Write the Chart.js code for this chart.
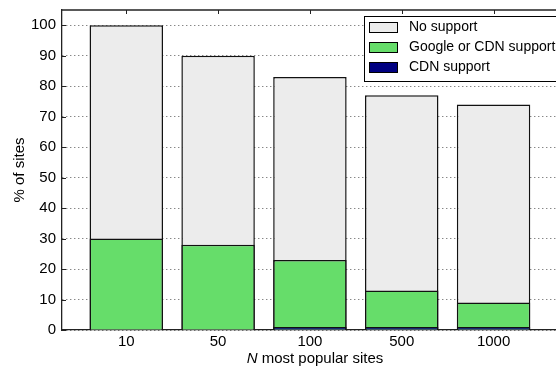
<!DOCTYPE html>
<html>
<head>
<meta charset="utf-8">
<script src="https://cdn.jsdelivr.net/npm/chart.js@4"></script>
<style>
  html, body { margin: 0; padding: 0; background: #fff; }
</style>
</head>
<body>
<canvas id="chart" width="556" height="368"></canvas>
<script>
// data
const categories = ["10", "50", "100", "500", "1000"];
const noSupport = [100, 90, 83, 77, 74];
const googleOrCdn = [30, 28, 23, 13, 9];
const cdnSupport = [0, 0, 1, 1, 1];
const yTicks = [0, 10, 20, 30, 40, 50, 60, 70, 80, 90, 100];

const FONT = "'Liberation Sans', Arial, Helvetica, sans-serif";
const tickFont = { family: FONT, size: 15 };

const toPoints = arr => arr.map((v, i) => ({ x: i, y: v }));

// top spine + inward tick marks, like the matplotlib frame
const framePlugin = {
  id: "frame",
  afterDraw(chart) {
    const { ctx, chartArea: a, scales } = chart;
    ctx.save();
    ctx.strokeStyle = "#222";
    ctx.lineWidth = 1.3;
    ctx.beginPath();
    ctx.moveTo(a.left, a.top);
    ctx.lineTo(a.right, a.top);
    ctx.stroke();
    ctx.lineWidth = 1;
    ctx.beginPath();
    categories.forEach((c, i) => {
      const x = Math.round(scales.x.getPixelForValue(i)) + 0.5;
      ctx.moveTo(x, a.top);
      ctx.lineTo(x, a.top + 4);
    });
    yTicks.forEach(v => {
      const y = Math.round(scales.y.getPixelForValue(v)) + 0.5;
      ctx.moveTo(a.left, y);
      ctx.lineTo(a.left + 4, y);
    });
    ctx.stroke();
    ctx.restore();
  }
};

// legend box inside the plot, top right
const legendPlugin = {
  id: "boxLegend",
  afterDraw(chart) {
    const ctx = chart.ctx;
    const x0 = 364.5, y0 = 16.5;
    ctx.save();
    ctx.fillStyle = "#fff";
    ctx.strokeStyle = "#000";
    ctx.lineWidth = 1;
    ctx.fillRect(x0, y0, 200, 65);
    ctx.strokeRect(x0, y0, 200, 65);
    ctx.font = "14px " + FONT;
    ctx.textBaseline = "middle";
    chart.data.datasets.forEach((ds, i) => {
      const y = 22.5 + i * 20;
      ctx.fillStyle = ds.backgroundColor;
      ctx.fillRect(369.5, y, 28, 10);
      ctx.strokeRect(369.5, y, 28, 10);
      ctx.fillStyle = "#000";
      ctx.fillText(ds.label, 409, y + 5);
    });
    ctx.restore();
  }
};

// x axis title with italic N
const xTitlePlugin = {
  id: "xTitle",
  afterDraw(chart) {
    const ctx = chart.ctx;
    const italic = "italic 15px " + FONT;
    const normal = "15px " + FONT;
    const rest = " most popular sites";
    ctx.save();
    ctx.font = italic;
    const w1 = ctx.measureText("N").width;
    ctx.font = normal;
    const w2 = ctx.measureText(rest).width;
    let x = 315 - (w1 + w2) / 2;
    const y = 359;
    ctx.fillStyle = "#000";
    ctx.textBaseline = "middle";
    ctx.font = italic;
    ctx.fillText("N", x, y);
    ctx.font = normal;
    ctx.fillText(rest, x + w1, y);
    ctx.restore();
  }
};

new Chart(document.getElementById("chart"), {
  type: "bar",
  data: {
    datasets: [
      { label: "No support", data: toPoints(noSupport), backgroundColor: "#ececec", order: 3 },
      { label: "Google or CDN support", data: toPoints(googleOrCdn), backgroundColor: "#66dd6a", order: 2 },
      { label: "CDN support", data: toPoints(cdnSupport), backgroundColor: "#000080", order: 1 }
    ]
  },
  options: {
    responsive: false,
    animation: false,
    devicePixelRatio: 1,
    layout: { padding: { top: 10, right: 0, left: 0, bottom: 0 } },
    datasets: {
      bar: {
        grouped: false,
        borderColor: "#111",
        borderWidth: 1.5,
        borderSkipped: "start",
        barPercentage: 1,
        categoryPercentage: 0.8
      }
    },
    plugins: {
      legend: { display: false },
      tooltip: { enabled: false }
    },
    scales: {
      x: {
        type: "linear",
        offset: false,
        min: -0.7,
        max: 4.68,
        afterBuildTicks: s => { s.ticks = categories.map((c, i) => ({ value: i })); },
        afterFit: s => { s.height = 38; s.paddingLeft = 0; s.paddingRight = 0; },
        ticks: {
          font: tickFont, color: "#000", padding: 3,
          autoSkip: false, maxRotation: 0,
          callback: v => categories[v]
        },
        grid: { display: false, drawTicks: false, offset: false },
        border: { color: "#222", width: 1.3 }
      },
      y: {
        min: 0,
        max: 105,
        afterBuildTicks: s => { s.ticks = yTicks.map(v => ({ value: v })); },
        afterFit: s => { s.width = 62; s.paddingTop = 0; s.paddingBottom = 0; },
        ticks: { font: tickFont, color: "#000", padding: 6 },
        grid: { color: "#555", lineWidth: 1, drawTicks: false },
        border: { color: "#222", width: 1.3, dash: [1, 3] },
        title: {
          display: true, text: "% of sites", color: "#000",
          font: tickFont, padding: { top: 11, bottom: 0 }
        }
      }
    }
  },
  plugins: [framePlugin, legendPlugin, xTitlePlugin]
});
</script>
</body>
</html>
